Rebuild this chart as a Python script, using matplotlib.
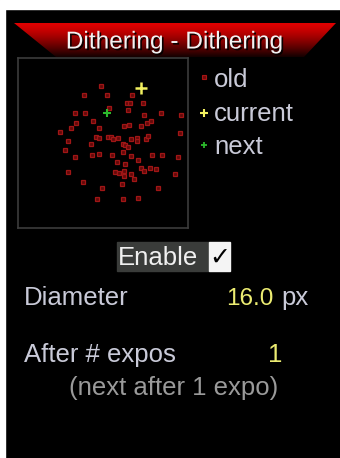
import matplotlib.pyplot as plt
import numpy as np
from matplotlib.patches import Polygon, Rectangle
import matplotlib.patheffects as pe

# Dither offsets (px), old positions
old_x = [-0.4, -3.7, 0.8, 5.6, 4.6, 5.2, 7.8, -5.4, -3.4, 1.1, 4.9, 7.9, 11.3, 15.2,
         -5.3, -1.9, -6.3, -0.7, 4.1, 5.1, 7.3, 8.6, 9.4, -8.3, 15.0, -1.4, -0.7, 0.9,
         1.6, 1.9, 2.9, 5.4, 6.6, 6.6, 8.4, 8.8, -6.8, -2.4, 3.9, 4.3, 4.9, -7.4, -2.2,
         -0.7, 1.8, 3.9, 5.4, 9.6, 11.4, 14.6, -5.4, 2.8, 6.8, 4.3, 7.4, 9.1, 10.3, 7.9,
         2.4, 3.1, 4.1, 4.1, 5.4, 6.1, -6.8, 13.9, -3.9, 3.6, -0.2, 10.6, -1.2, 3.9, 6.8]
old_y = [11.0, 9.4, 9.4, 9.4, 7.8, 7.8, 7.8, 5.9, 5.9, 6.8, 6.5, 5.4, 5.8, 5.4,
         3.9, 4.2, 2.9, 2.9, 3.3, 3.4, 3.3, 3.9, 4.2, 2.2, 1.9, 1.2, 0.9, 1.2,
         1.2, 0.7, 0.9, 0.7, 0.9, 0.4, 0.7, 1.4, 0.4, -0.1, -0.1, -0.3, -0.8, -1.3, -2.3,
         -2.1, -2.3, -1.8, -2.6, -2.3, -2.3, -2.8, -2.8, -3.6, -3.3, -4.1, -4.8, -4.8, -5.1, -5.4,
         -5.6, -5.9, -5.4, -6.4, -6.1, -6.9, -5.6, -6.1, -7.6, -7.9, -8.8, -8.8, -10.8, -10.8, -10.6]
current_xy = (7.4, 10.7)
next_xy = (0.8, 5.9)

legend_labels = ["old", "current", "next"]
title = "Dithering - Dithering"
diameter = "16.0"
after_expos = "1"

W, H = 340, 458
FONT = "Liberation Sans"
FS = 18.5
fig = plt.figure(figsize=(W / 100, H / 100), dpi=100, facecolor="black")
ax = fig.add_axes([0, 0, 1, 1])
ax.axis("off")
ax.add_patch(Rectangle((0, 0), W, H, color="black", zorder=0))
# white screenshot margins
ax.add_patch(Rectangle((0, 0), W, 9, color="white", zorder=1))
ax.add_patch(Rectangle((0, 0), 5, H, color="white", zorder=1))

# header band with vertical red -> dark gradient
grad = np.linspace(0, 1, 64)
cols = np.zeros((64, 1, 3))
cols[:, 0, 0] = 0.88 - 0.8 * grad ** 1.3
im = ax.imshow(cols, extent=(10, 338, 57, 23), aspect="auto", zorder=2, interpolation="bilinear")
band = Polygon([(14, 23), (336, 23), (304, 57), (56, 57)], closed=True,
               facecolor="none", edgecolor="none")
ax.add_patch(band)
im.set_clip_path(band)
ax.set_xlim(0, W)
ax.set_ylim(H, 0)
ax.text(174, 48.5, title, color="#f2f2f2", fontsize=17.6, family=FONT,
        ha="center", va="baseline", zorder=3,
        path_effects=[pe.withSimplePatchShadow(offset=(1.2, -1.2), shadow_rgbFace="black", alpha=0.9)])

# scatter box
bx0, by0, bx1, by1 = 18, 58, 188, 228
sax = fig.add_axes([bx0 / W, 1 - by1 / H, (bx1 - bx0) / W, (by1 - by0) / H])
sax.set_facecolor("black")
sax.set_xlim(-16.5, 16.5)
sax.set_ylim(-16.5, 16.5)
sax.set_xticks([])
sax.set_yticks([])
for s in sax.spines.values():
    s.set_color("#3c3c3c")
    s.set_linewidth(1.2)
sax.plot(old_x, old_y, ls="none", marker="s", ms=3.1, mfc="#620909", mec="#a01616", mew=0.9)
sax.plot(*next_xy, ls="none", marker="+", ms=6, mew=1.5, color="#2cb82c")
sax.plot(*current_xy, ls="none", marker="+", ms=8, mew=1.8, color="#f2f060")

# legend
txt_col = "#c9cad8"
lx = 204
ax.plot(lx, 77, ls="none", marker="s", ms=2.4, mfc="#6e0a0a", mec="#a81414", mew=0.8)
ax.plot(lx, 113, ls="none", marker="+", ms=6, mew=1.5, color="#f2f060")
ax.plot(lx, 145, ls="none", marker="+", ms=4.5, mew=1.3, color="#2cb82c")
for lab, y in zip(legend_labels, [87, 121, 154]):
    ax.text(214, y, lab, color=txt_col, fontsize=FS, family=FONT, ha="left", va="baseline")

# enable control
ax.add_patch(Rectangle((117, 242), 92, 29, color="#3a3c3a", zorder=2))
ax.add_patch(Rectangle((209, 242), 21, 29, color="#f4f4f4", zorder=2))
ax.text(158, 265, "Enable", color="#f0f0f0", fontsize=FS, family=FONT,
        ha="center", va="baseline", zorder=3)
ax.text(219.5, 257.5, "\u2713", color="black", fontsize=18, family="DejaVu Sans",
        ha="center", va="center", zorder=3)

# parameters
ax.text(24, 305, "Diameter", color=txt_col, fontsize=FS, family=FONT, ha="left", va="baseline")
ax.text(274, 305, diameter, color="#ecec72", fontsize=17.5, family=FONT, ha="right", va="baseline")
ax.text(281, 305, "px", color=txt_col, fontsize=FS, family=FONT, ha="left", va="baseline")
ax.text(24, 362, "After # expos", color=txt_col, fontsize=FS, family=FONT, ha="left", va="baseline")
ax.text(275, 362, after_expos, color="#ecec72", fontsize=FS, family=FONT, ha="center", va="baseline")
ax.text(174, 395, "(next after %s expo)" % after_expos, color="#9a9a9a", fontsize=FS,
        family=FONT, ha="center", va="baseline")

fig.savefig("out.png", dpi=100, facecolor="black")
